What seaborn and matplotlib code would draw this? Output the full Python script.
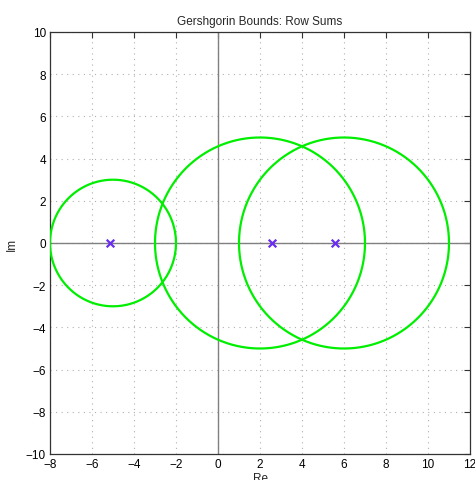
import matplotlib
matplotlib.use("Agg")
import matplotlib.pyplot as plt
import numpy as np
import pandas as pd
import seaborn as sns

# Gershgorin discs (row sums) and eigenvalues
centers = [-5.0, 2.0, 6.0]
radii = [3.0, 5.0, 5.0]
eig_re = [-5.14, 2.57, 5.57]
eig_im = [0.0, 0.0, 0.0]

xticks = list(range(-8, 13, 2))
yticks = list(range(-10, 11, 2))

sns.set_style("white")
plt.rcParams['font.family'] = ['Liberation Sans', 'DejaVu Sans']

theta = np.linspace(0, 2 * np.pi, 400)
frames = []
for i, (c, r) in enumerate(zip(centers, radii)):
    frames.append(pd.DataFrame({'re': c + r * np.cos(theta),
                                'im': r * np.sin(theta),
                                'disc': i}))
discs = pd.concat(frames, ignore_index=True)
eigs = pd.DataFrame({'re': eig_re, 'im': eig_im})

fig = plt.figure(figsize=(4.75, 4.81), dpi=100)
ax = fig.add_axes([50 / 475, 1 - 455 / 481, 420 / 475, 422 / 481])

ax.axhline(0, color='#808080', lw=1, zorder=1)
ax.axvline(0, color='#808080', lw=1, zorder=1)

sns.lineplot(data=discs, x='re', y='im', units='disc', estimator=None,
             sort=False, color='#00ee00', lw=1.6, ax=ax, zorder=3)
sns.scatterplot(data=eigs, x='re', y='im', marker='x', color='#6a2cf0',
                s=30, linewidth=1.6, ax=ax, zorder=4)

ax.set_xlim(-8, 12)
ax.set_ylim(-10, 10)
ax.set_xticks(xticks)
ax.set_yticks(yticks)
ax.set_xticklabels([str(t).replace('-', '\u2212') for t in xticks])
ax.set_yticklabels([str(t).replace('-', '\u2212') for t in yticks])
ax.grid(True, linestyle=(0, (1, 4)), color='#b0b0b0', lw=0.8)
ax.tick_params(direction='in', top=True, right=True, length=4, width=0.8,
               labelsize=8.5, colors='#333333', labelcolor='black', pad=3)
for sp in ax.spines.values():
    sp.set_color('#333333')
    sp.set_linewidth(0.9)

ax.set_title('Gershgorin Bounds: Row Sums', fontsize=8.5, pad=6)
ax.set_xlabel('Re', fontsize=8.5, labelpad=1)
ax.set_ylabel('Im', fontsize=8.5, labelpad=6)

fig.savefig('out.png', dpi=100)
